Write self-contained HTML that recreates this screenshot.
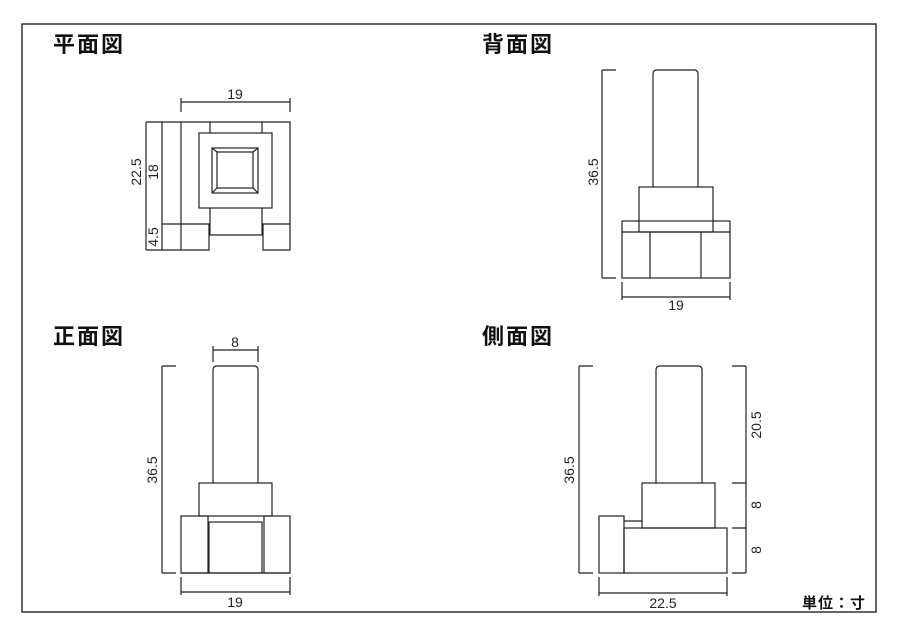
<!DOCTYPE html>
<html><head><meta charset="utf-8"><style>
html,body{margin:0;padding:0;background:#fff;}
svg{display:block;}
.t{font-family:"Liberation Sans","Noto Sans CJK JP",sans-serif;font-weight:bold;font-size:22px;fill:#111;letter-spacing:2px;}
.n{font-family:"Liberation Sans","Noto Sans CJK JP",sans-serif;font-size:14px;fill:#222;}
</style></head><body>
<svg width="900" height="636" viewBox="0 0 900 636" xmlns="http://www.w3.org/2000/svg">
<rect x="22" y="24" width="854" height="588" fill="none" stroke="#333" stroke-width="1.5"/>
<text class="t" x="53" y="52">平面図</text>
<text class="t" x="482" y="52">背面図</text>
<text class="t" x="53" y="344">正面図</text>
<text class="t" x="482" y="344">側面図</text>
<text class="t" x="802" y="608" style="font-size:15px;letter-spacing:1px">単位：寸</text>
<g fill="none" stroke="#222" stroke-width="1.2">
<!-- plan -->
<path d="M181 224V122H290V224"/>
<path d="M210 122V133M262 122V133"/>
<rect x="199" y="133" width="73" height="75"/>
<rect x="212" y="148" width="46" height="45"/>
<rect x="217" y="152" width="36" height="36"/>
<path d="M212 148L217 152M258 148L253 152M212 193L217 188M258 193L253 188"/>
<path d="M210 208V235H262V208"/>
<path d="M181 224H209V250H181V224M290 224H263V250H290V224"/>
<path d="M181 102H290M181 98V112M290 98V112"/>
<path d="M146 122V250M162 122V250M146 122H181M162 224H181M146 250H181"/>
<!-- back -->
<path d="M602 70V278M602 70H616M602 278H616"/>
<path d="M653 187V74Q653 70 657 70H694Q698 70 698 74V187"/>
<rect x="639" y="187" width="74" height="45"/>
<rect x="622" y="221" width="108" height="57"/>
<path d="M622 232H730M650 232V278M701 232V278"/>
<path d="M622 297H730M622 282V300M730 282V300"/>
<!-- front -->
<path d="M213 350H258M213 346V362M258 346V362"/>
<path d="M162 366V573M162 366H176M162 573H176"/>
<path d="M213 483V370Q213 366 217 366H254Q258 366 258 370V483"/>
<rect x="199" y="483" width="73" height="33"/>
<rect x="181" y="516" width="27" height="57"/>
<rect x="264" y="516" width="26" height="57"/>
<rect x="209" y="522" width="53" height="51"/>
<path d="M181 573H290"/>
<path d="M181 592H290M181 577V595M290 577V595"/>
<!-- side -->
<path d="M579 366V573M579 366H593M579 573H593"/>
<path d="M656 483V370Q656 366 660 366H698Q702 366 702 370V483"/>
<rect x="642" y="483" width="73" height="45"/>
<rect x="624" y="528" width="103" height="45"/>
<rect x="599" y="516" width="25" height="57"/>
<path d="M624 521H642"/>
<path d="M746 366V573M732 366H746M732 483H746M732 528H746M732 573H746"/>
<path d="M599 593H727M599 577V596M727 577V596"/>
</g>
<g class="n">
<text x="235" y="99" text-anchor="middle">19</text>
<text transform="translate(141,172) rotate(-90)" text-anchor="middle">22.5</text>
<text transform="translate(158,172) rotate(-90)" text-anchor="middle">18</text>
<text transform="translate(158,237) rotate(-90)" text-anchor="middle">4.5</text>
<text transform="translate(598,172) rotate(-90)" text-anchor="middle">36.5</text>
<text x="676" y="310" text-anchor="middle">19</text>
<text x="235" y="347" text-anchor="middle">8</text>
<text transform="translate(157,470) rotate(-90)" text-anchor="middle">36.5</text>
<text x="235" y="607" text-anchor="middle">19</text>
<text transform="translate(574,470) rotate(-90)" text-anchor="middle">36.5</text>
<text transform="translate(761,425) rotate(-90)" text-anchor="middle">20.5</text>
<text transform="translate(761,505) rotate(-90)" text-anchor="middle">8</text>
<text transform="translate(761,550) rotate(-90)" text-anchor="middle">8</text>
<text x="663" y="608" text-anchor="middle">22.5</text>
</g>
</svg>
</body></html>
